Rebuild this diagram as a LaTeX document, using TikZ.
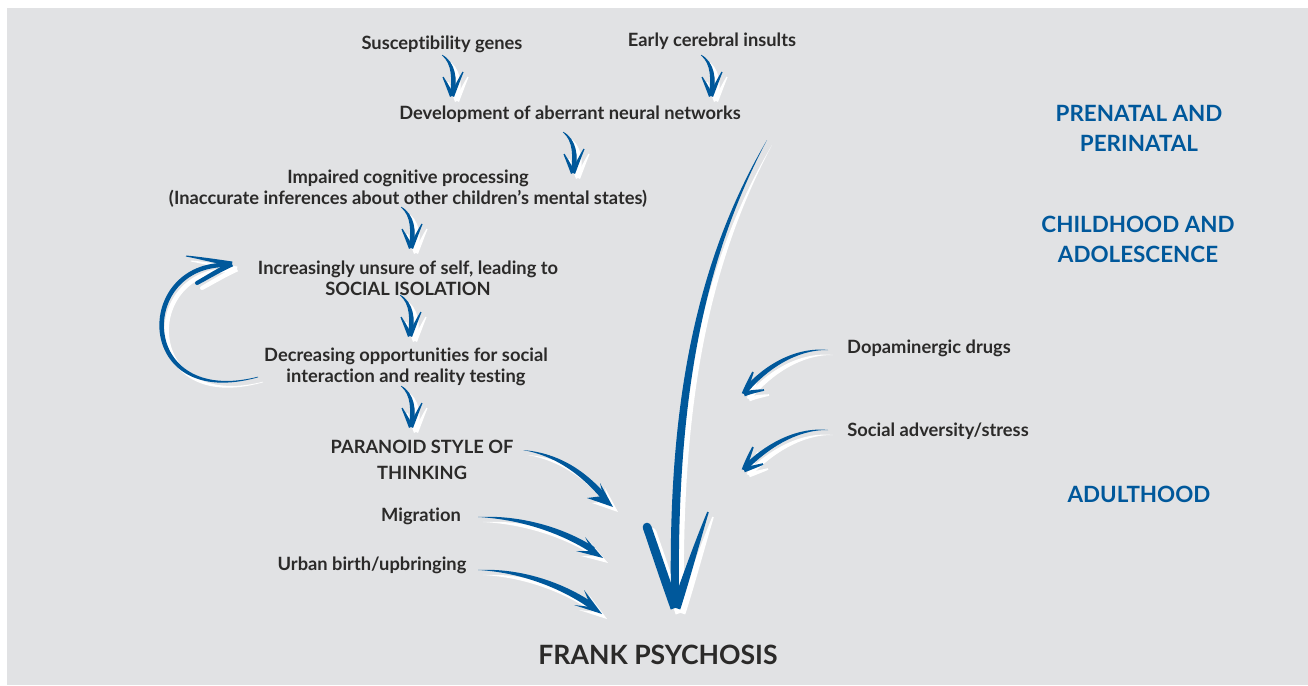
\documentclass[tikz,border=0pt]{standalone}
\usepackage{fontspec}
\setmainfont{Lato}[Ligatures={NoCommon,NoContextual}]
\usetikzlibrary{calc}
\definecolor{bgrey}{HTML}{E1E2E4}
\definecolor{ablue}{HTML}{00589B}
\definecolor{tgrey}{HTML}{2B2A29}
% tapered brush stroke: #1 colour, #2 tail, #3 ctrl1, #4 ctrl2, #5 tip, #6-#9 half widths
\newcommand{\brush}[9]{%
 \path (#2) coordinate (bT) (#3) coordinate (bC) (#4) coordinate (bD) (#5) coordinate (bP)
   ($(bT)!#6!90:(bC)$) coordinate (tA) ($(bT)!#6!-90:(bC)$) coordinate (tB)
   ($(bT)!#7!90:(bD)$) coordinate (cA) ($(bT)!#7!-90:(bD)$) coordinate (cB)
   ($(bC)!#8!90:(bP)$) coordinate (dA) ($(bC)!#8!-90:(bP)$) coordinate (dB)
   ($(bP)!#9!-90:(bD)$) coordinate (pA) ($(bP)!#9!90:(bD)$) coordinate (pB);
 \fill[#1] (tA) .. controls ($(bC)+(cA)-(bT)$) and ($(bD)+(dA)-(bC)$) .. (pA)
   -- (pB) .. controls ($(bD)+(dB)-(bC)$) and ($(bC)+(cB)-(bT)$) .. (tB) -- cycle;}
\newcommand{\shadowed}[1]{%
 \begin{scope}[shift={(5,5)}]\def\bc{white}#1\end{scope}%
 \begin{scope}\def\bc{ablue}#1\end{scope}}
\newcommand{\smallarrowbody}{%
 \brush{\bc}{-10,-40}{2,-32}{3,-15}{0,0}{0.3pt}{2pt}{2.8pt}{2.2pt}%
 \brush{\bc}{-9,-18}{-6,-12}{-3,-6}{0,1}{0.6pt}{1.2pt}{1.8pt}{2.2pt}%
 \brush{\bc}{11,-23}{7,-15}{4,-8}{0,1}{0.6pt}{1.2pt}{1.8pt}{2.2pt}}
\tikzset{
 lbl/.style={text=tgrey, font=\bfseries\fontsize{18.3}{21}\selectfont, align=center, inner sep=0pt},
 era/.style={text=ablue, font=\bfseries\fontsize{22.4}{30}\selectfont, align=center, inner sep=0pt},
 big/.style={text=tgrey, font=\bfseries\fontsize{26.6}{32}\selectfont, inner sep=0pt}}
\begin{document}
\begin{tikzpicture}[x=1pt,y=-1pt]
\useasboundingbox (0,0) rectangle (1308,685);
\fill[white] (0,0) rectangle (1308,685);
\fill[bgrey] (7,8) rectangle (1308,685);
% labels
\node[lbl] (sus) at (442,44) {Susceptibility genes};
\node[lbl] (early) at (712,41) {Early cerebral insults};
\node[lbl] (dev) at (570,114) {Development of aberrant neural networks};
\node[lbl] (imp) at (408,189) {Impaired cognitive processing\\(Inaccurate inferences about other children’s mental states)};
\node[lbl] (unsure) at (408,278) {Increasingly unsure of self, leading to\\SOCIAL ISOLATION};
\node[lbl] (decr) at (406,367) {Decreasing opportunities for social\\interaction and reality testing};
\node[lbl, font=\bfseries\fontsize{18.3}{26}\selectfont] (para) at (422,460) {PARANOID STYLE OF\\THINKING};
\node[lbl] (mig) at (421,516) {Migration};
\node[lbl] (urban) at (372,565) {Urban birth/upbringing};
\node[lbl] (dopa) at (929,348) {Dopaminergic drugs};
\node[lbl] (soc) at (938,431) {Social adversity/stress};
\node[era] (pre) at (1139,128) {PRENATAL AND\\PERINATAL};
\node[era] (child) at (1138,239) {CHILDHOOD AND\\ADOLESCENCE};
\node[era] (adult) at (1139,494) {ADULTHOOD};
\node[big] (frank) at (658,655) {FRANK PSYCHOSIS};
% arrow tips
\coordinate (t1) at (452,95);
\coordinate (t2) at (711,95);
\coordinate (t3) at (573,172);
\coordinate (t4) at (411,247);
\coordinate (t5) at (410,335);
\coordinate (t6) at (411,426);
\foreach \t in {t1,t2,t3,t4,t5,t6}{
 \begin{scope}[shift={(\t)}]\shadowed{\smallarrowbody}\end{scope}}
% big arrow
\shadowed{%
 \brush{\bc}{767,140}{700,260}{672,400}{675,598}{0pt}{3pt}{4.5pt}{4pt}%
 \fill[\bc] (647,527) circle (4.3);%
 \brush{\bc}{647,527}{656,553}{665,580}{675,608}{4.3pt}{4.5pt}{4.5pt}{4.5pt}%
 \brush{\bc}{708,512}{697,543}{687,575}{676,608}{0.8pt}{2.5pt}{4pt}{4.5pt}}
% loop
\shadowed{%
 \brush{\bc}{258,377}{135,410}{135,262}{228,265}{0.3pt}{4pt}{4pt}{2.2pt}%
 \brush{\bc}{186,256}{200,258}{215,261}{232,264}{0.5pt}{1.2pt}{2pt}{2.5pt}%
 \fill[\bc] (197,283) circle (2);%
 \brush{\bc}{197,283}{208,277}{219,270}{232,264}{2pt}{2.2pt}{2.4pt}{2.5pt}}
% dopaminergic, social adversity
\shadowed{%
 \brush{\bc}{828,350}{795,348}{765,368}{746,390}{0pt}{1.6pt}{2.6pt}{2.6pt}%
 \brush{\bc}{753,372}{750,379}{747,386}{744,394}{0.8pt}{1.5pt}{2pt}{2.4pt}%
 \brush{\bc}{764,390}{757,391}{750,392}{744,394}{0.8pt}{1.5pt}{2pt}{2.4pt}}
\shadowed{%
 \brush{\bc}{828,430}{795,428}{765,448}{746,467}{0pt}{1.6pt}{2.6pt}{2.6pt}%
 \brush{\bc}{753,447}{750,454}{747,461}{744,470}{0.8pt}{1.5pt}{2pt}{2.4pt}%
 \brush{\bc}{763,464}{757,466}{750,468}{744,470}{0.8pt}{1.5pt}{2pt}{2.4pt}}
% paranoid, migration, urban
\shadowed{%
 \brush{\bc}{523,450}{560,455}{585,475}{604,497}{0pt}{2pt}{3pt}{3pt}%
 \fill[\bc] (613,507) -- (600,483) -- (603,496) -- (587,498) -- cycle;}
\shadowed{%
 \brush{\bc}{478,517}{520,517}{562,530}{593,550}{0pt}{2.2pt}{3pt}{3.2pt}%
 \fill[\bc] (603,558) -- (585,537) -- (592,551) -- (576,551) -- cycle;}
\shadowed{%
 \brush{\bc}{478,570}{520,570}{562,585}{592,606}{0pt}{2.2pt}{3pt}{3.2pt}%
 \fill[\bc] (602,614) -- (584,590) -- (591,607) -- (574,605) -- cycle;}
\end{tikzpicture}
\end{document}
